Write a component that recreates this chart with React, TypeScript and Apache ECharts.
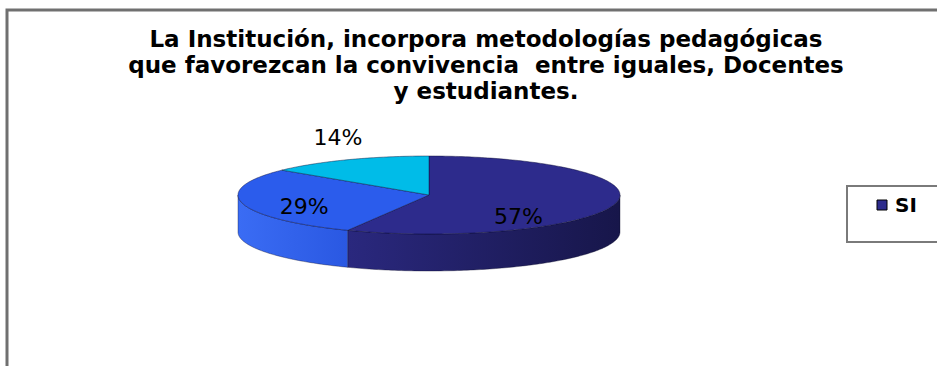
import React, { useEffect, useRef } from "react";
import * as echarts from "echarts";

const titleLines = [
  "La Institución, incorpora metodologías pedagógicas",
  "que favorezcan la convivencia  entre iguales, Docentes",
  "y estudiantes.",
];
const categories = ["SI", "NO", "A VECES"];
const values = [57, 29, 14];
const labels = ["57%", "29%", "14%"];
const legendShown = ["SI"];

const topColors = ["#2D2B8C", "#2B5CEC", "#00BCE8"];
const sideColorsL = ["#2A287E", "#3A6CF4", "#00C4F0"];
const sideColorsR = ["#17164A", "#2A58E2", "#00A8D8"];

export default function App() {
  const ref = useRef<HTMLDivElement>(null);
  useEffect(() => {
    document.body.style.margin = "0";
    const chart = echarts.init(ref.current!, null, { renderer: "svg" });
    const total = values.reduce((a, b) => a + b, 0);
    const cx = 429;
    const cy = 195;
    const rx = 191;
    const ry = 39;
    const depth = 37;
    const pt = (deg: number, dy = 0) => {
      const r = (deg * Math.PI) / 180;
      return [cx + rx * Math.sin(r), cy - ry * Math.cos(r) + dy];
    };
    const arc = (a0: number, a1: number, dy = 0) => {
      const pts: number[][] = [];
      const n = Math.max(2, Math.ceil(Math.abs(a1 - a0)));
      for (let i = 0; i <= n; i++) pts.push(pt(a0 + ((a1 - a0) * i) / n, dy));
      return pts;
    };
    const starts: number[] = [];
    let acc = 0;
    values.forEach((v) => {
      starts.push(acc);
      acc += (v / total) * 360;
    });

    const renderItem = (params: any) => {
      const i = params.dataIndex;
      const a0 = starts[i];
      const a1 = a0 + (values[i] / total) * 360;
      const children: any[] = [];
      const s0 = Math.max(a0, 90);
      const s1 = Math.min(a1, 270);
      if (s1 > s0) {
        const top = arc(s0, s1);
        const bottom = arc(s1, s0, depth);
        const xs = top.map((p) => p[0]);
        children.push({
          type: "polygon",
          shape: { points: top.concat(bottom) },
          style: {
            fill: new echarts.graphic.LinearGradient(
              Math.min(...xs), 0, Math.max(...xs), 0,
              [
                { offset: 0, color: sideColorsL[i] },
                { offset: 1, color: sideColorsR[i] },
              ],
              true
            ),
            stroke: "rgba(10,10,40,0.45)",
            lineWidth: 0.8,
          },
        });
      }
      children.push({
        type: "polygon",
        shape: { points: [[cx, cy]].concat(arc(a0, a1)) },
        style: { fill: topColors[i], stroke: "rgba(10,10,50,0.55)", lineWidth: 0.8 },
      });
      const mid = (a0 + a1) / 2;
      const frac = values[i] / total;
      let lx: number, ly: number, vAlign = "middle";
      const r = (mid * Math.PI) / 180;
      if (frac < 0.2) {
        const p = pt(mid);
        lx = p[0] + Math.sin(r) * 23;
        ly = p[1] - 11;
        vAlign = "bottom";
      } else {
        lx = cx + rx * Math.sin(r) * (frac > 0.5 ? 0.48 : 0.67);
        ly = cy - ry * Math.cos(r) * 0.6 + (frac > 0.5 ? 16 : 6);
      }
      children.push({
        type: "text",
        z2: 100,
        style: {
          text: labels[i],
          x: lx,
          y: ly,
          align: "center",
          verticalAlign: vAlign,
          fill: "#000",
          font: "22px 'DejaVu Sans'",
        },
      });
      return { type: "group", children };
    };

    chart.setOption({
      animation: false,
      backgroundColor: "#fff",
      graphic: [
        {
          type: "rect",
          shape: { x: 7, y: 10, width: 1000, height: 1000 },
          style: { fill: "none", stroke: "#707070", lineWidth: 3 },
          silent: true,
        },
        {
          type: "text",
          style: {
            text: titleLines.join("\n"),
            x: 486,
            y: 26,
            align: "center",
            verticalAlign: "top",
            lineHeight: 26,
            fill: "#000",
            font: "bold 23px 'DejaVu Sans'",
          },
        },
        {
          type: "rect",
          shape: { x: 847, y: 186, width: 140, height: 56 },
          style: { fill: "#fff", stroke: "#7a7a7a", lineWidth: 2 },
        },
        {
          type: "rect",
          shape: { x: 877, y: 200, width: 10, height: 10 },
          style: { fill: topColors[0], stroke: "#000", lineWidth: 1 },
        },
        {
          type: "text",
          style: {
            text: legendShown[0],
            x: 895,
            y: 205,
            verticalAlign: "middle",
            fill: "#000",
            font: "bold 20px 'DejaVu Sans'",
          },
        },
      ],
      series: [
        {
          type: "custom",
          name: "Respuestas",
          coordinateSystem: "none",
          renderItem,
          data: values.map((v, i) => ({ name: categories[i], value: v })),
        },
      ],
    });
    return () => chart.dispose();
  }, []);
  return <div ref={ref} style={{ width: 937, height: 366 }} />;
}
